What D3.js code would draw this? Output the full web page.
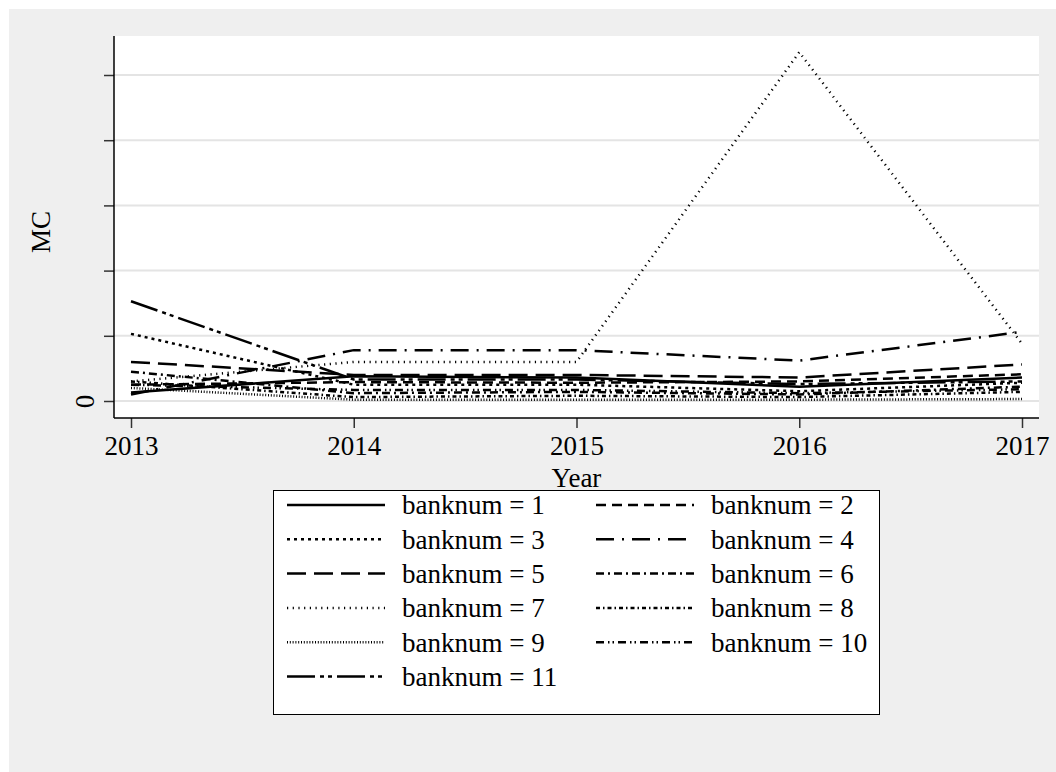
<!DOCTYPE html>
<html>
<head>
<meta charset="utf-8">
<script src="https://cdn.jsdelivr.net/npm/d3@7"></script>
<style>
  html, body { margin: 0; padding: 0; background: #fff; }
  text { font-family: "Liberation Serif", "Times New Roman", serif; fill: #000; }
</style>
</head>
<body>
<script>
// years on the x axis
const years = [2013, 2014, 2015, 2016, 2017];

// MC per bank
const bank1 = [0.13, 0.38, 0.36, 0.22, 0.36];
const bank2 = [0.25, 0.29, 0.28, 0.30, 0.41];
const bank3 = [1.03, 0.25, 0.25, 0.15, 0.28];
const bank4 = [0.10, 0.78, 0.78, 0.62, 1.06];
const bank5 = [0.60, 0.40, 0.40, 0.36, 0.56];
const bank6 = [0.45, 0.12, 0.14, 0.10, 0.22];
const bank7 = [0.30, 0.60, 0.60, 5.35, 0.88];
const bank8 = [0.30, 0.06, 0.08, 0.06, 0.14];
const bank9 = [0.20, 0.02, 0.02, 0.02, 0.03];
const bank10 = [0.25, 0.17, 0.17, 0.12, 0.18];
const bank11 = [1.53, 0.33, 0.33, 0.26, 0.30];

const series = [bank1, bank2, bank3, bank4, bank5, bank6, bank7, bank8, bank9, bank10, bank11];
const labels = series.map((s, i) => 'banknum = ' + (i + 1));
const yTicks = [0, 1, 2, 3, 4, 5];

// stata-ish line patterns
const dashes = [
    null,               // solid
    '10,6',             // dash
    '3,4',              // shortdash
    '18,8,2,8',         // longdash dot
    '19,8',             // longdash
    '8,4,2,4',          // dash dot
    '1.2,4.5',          // dot
    '4,3,1.5,3',        // shortdash dot
    '1,1.8',            // tight dot
    '8,4,1.5,3,1.5,4',  // dash dot dot
    '28,5,4,4,4,5'      // long - - long
];

const W = 1056, H = 772;
const plot = {left: 114, right: 1039, top: 36, bottom: 418};
const fontSize = 27;

let svg = d3.select('body').append('svg')
    .attr('width', W)
    .attr('height', H);

svg.append('rect')
    .attr('x', 9).attr('y', 9)
    .attr('width', W - 9).attr('height', H - 9)
    .attr('fill', '#efefef');

svg.append('rect')
    .attr('x', plot.left).attr('y', plot.top)
    .attr('width', plot.right - plot.left).attr('height', plot.bottom - plot.top)
    .attr('fill', '#fff');

let x = d3.scaleLinear().domain([2013, 2017]).range([131, 1022]);
let y = d3.scaleLinear().domain([0, 5]).range([401, 75]);

// gridlines
svg.append('g').selectAll('line')
    .data(yTicks)
    .join('line')
    .attr('x1', plot.left).attr('x2', plot.right)
    .attr('y1', d => y(d)).attr('y2', d => y(d))
    .attr('stroke', '#e4e4e4')
    .attr('stroke-width', 2);

let line = d3.line()
    .x((d, i) => x(years[i]))
    .y(d => y(d));

svg.append('g').selectAll('path')
    .data(series)
    .join('path')
    .attr('d', d => line(d))
    .attr('fill', 'none')
    .attr('stroke', '#000')
    .attr('stroke-width', 2.5)
    .attr('stroke-dasharray', (d, i) => dashes[i]);

// axes
let yAxis = d3.axisLeft(y)
    .tickValues(yTicks)
    .tickSize(10)
    .tickPadding(6)
    .tickFormat(d => d === 0 ? '0' : '');

let gy = svg.append('g')
    .attr('transform', 'translate(' + plot.left + ',0)')
    .call(yAxis);
gy.select('.domain').remove();
gy.selectAll('.tick line').attr('stroke', '#333').attr('stroke-width', 1.5);
gy.selectAll('.tick text')
    .attr('font-size', fontSize)
    .attr('font-family', '"Liberation Serif", serif')
    .attr('text-anchor', 'middle')
    .attr('transform', 'rotate(-90)')
    .attr('x', 0)
    .attr('y', -20)
    .attr('dy', '0');

svg.append('line')
    .attr('x1', plot.left).attr('x2', plot.left)
    .attr('y1', plot.top).attr('y2', plot.bottom)
    .attr('stroke', '#000').attr('stroke-width', 1.5);

let xAxis = d3.axisBottom(x)
    .tickValues(years)
    .tickSize(10)
    .tickPadding(8)
    .tickFormat(d3.format('d'));

let gx = svg.append('g')
    .attr('transform', 'translate(0,' + plot.bottom + ')')
    .call(xAxis);
gx.select('.domain').remove();
gx.selectAll('.tick line').attr('stroke', '#333').attr('stroke-width', 1.5);
gx.selectAll('.tick text')
    .attr('font-size', fontSize)
    .attr('font-family', '"Liberation Serif", serif');

svg.append('line')
    .attr('x1', plot.left).attr('x2', plot.right)
    .attr('y1', plot.bottom).attr('y2', plot.bottom)
    .attr('stroke', '#000').attr('stroke-width', 1.5);

// titles
svg.append('text')
    .attr('x', (plot.left + plot.right) / 2)
    .attr('y', 487)
    .attr('text-anchor', 'middle')
    .attr('font-size', fontSize)
    .text('Year');

svg.append('text')
    .attr('transform', 'translate(50,232) rotate(-90)')
    .attr('text-anchor', 'middle')
    .attr('font-size', fontSize)
    .text('MC');

// legend
let leg = svg.append('g');
leg.append('rect')
    .attr('x', 273.5).attr('y', 490.5)
    .attr('width', 606).attr('height', 224)
    .attr('fill', '#fff')
    .attr('stroke', '#000')
    .attr('stroke-width', 1);

let items = leg.selectAll('g.item')
    .data(labels)
    .join('g')
    .attr('class', 'item')
    .attr('transform', (d, i) => {
        let col = i % 2, row = Math.floor(i / 2);
        return 'translate(' + (col === 0 ? 287 : 596) + ',' + (505 + row * 34.3) + ')';
    });

items.append('line')
    .attr('x1', 0).attr('x2', 98)
    .attr('y1', 0).attr('y2', 0)
    .attr('stroke', '#000')
    .attr('stroke-width', 2.5)
    .attr('stroke-dasharray', (d, i) => dashes[i]);

items.append('text')
    .attr('x', 115)
    .attr('y', 0)
    .attr('dy', '0.35em')
    .attr('font-size', fontSize)
    .text(d => d);
</script>
</body>
</html>
